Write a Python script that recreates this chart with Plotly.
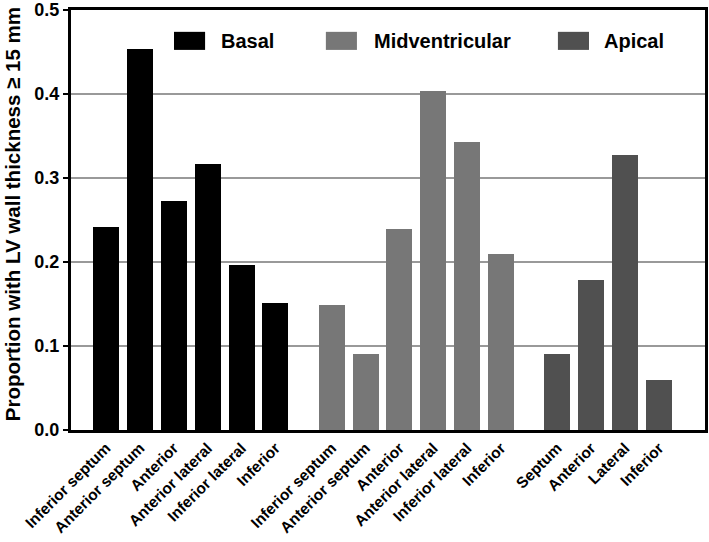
import plotly.graph_objects as go

groups = ["Basal", "Midventricular", "Apical"]
basal_labels = ["Inferior septum", "Anterior septum", "Anterior", "Anterior lateral", "Inferior lateral", "Inferior"]
basal_values = [0.242, 0.454, 0.273, 0.317, 0.197, 0.151]
mid_labels = ["Inferior septum", "Anterior septum", "Anterior", "Anterior lateral", "Inferior lateral", "Inferior"]
mid_values = [0.149, 0.090, 0.239, 0.403, 0.343, 0.209]
apical_labels = ["Septum", "Anterior", "Lateral", "Inferior"]
apical_values = [0.090, 0.178, 0.327, 0.059]
y_ticks = [0.0, 0.1, 0.2, 0.3, 0.4, 0.5]
colors = ["#000000", "#777777", "#505050"]
y_title = "Proportion with LV wall thickness \u2265 15 mm"

GAP = 1.66
series = [(basal_labels, basal_values), (mid_labels, mid_values), (apical_labels, apical_values)]

fig = go.Figure()
tickvals, ticktext = [], []
offset = 0.0
for (labels, values), name, color in zip(series, groups, colors):
    xs = [offset + i for i in range(len(labels))]
    fig.add_trace(go.Bar(x=xs, y=values, name=name, marker=dict(color=color, line=dict(width=0)),
                         width=0.77, showlegend=False))
    tickvals += xs
    ticktext += labels
    offset = xs[-1] + GAP

font_family = "Liberation Sans, Arial, sans-serif"

# legend drawn as wide swatches + text
legend_pos = [(0.1625, 0.2334, "Basal"), (0.402, 0.475, "Midventricular"), (0.768, 0.8375, "Apical")]
for (sx, tx, name), color in zip(legend_pos, colors):
    fig.add_shape(type="rect", xref="paper", yref="paper", x0=sx, x1=sx + 0.049,
                  y0=0.905, y1=0.948, fillcolor=color, line=dict(width=0))
    fig.add_annotation(xref="paper", yref="paper", x=tx, y=0.926, text=name,
                       showarrow=False, xanchor="left", yanchor="middle",
                       font=dict(family=font_family, size=20, color="black", weight="bold"))

# y-axis title
fig.add_annotation(xref="paper", yref="paper", x=-0.093, y=0.514, text=y_title,
                   textangle=-90, showarrow=False, xanchor="center", yanchor="middle",
                   font=dict(family=font_family, size=20.5, color="black", weight="bold"))

fig.update_layout(
    width=709, height=542,
    margin=dict(l=71, r=4, t=10, b=112),
    plot_bgcolor="white", paper_bgcolor="white",
    bargap=0,
    font=dict(family=font_family, color="black"),
)
fig.update_yaxes(
    range=[0, 0.5], tickmode="array", tickvals=y_ticks,
    ticktext=[f"{v:.1f}" for v in y_ticks], automargin=False, ticklabeloverflow="allow",
    showline=True, linewidth=3, linecolor="black", mirror=True,
    ticks="outside", ticklen=5, tickwidth=2, tickcolor="black",
    showgrid=True, gridcolor="#999999", gridwidth=2, zeroline=False,
    tickfont=dict(family=font_family, size=18, color="black", weight="bold"),
)
fig.update_xaxes(
    range=[-1.035, offset - GAP + 1.36], automargin=False, ticklabeloverflow="allow",
    tickvals=tickvals, ticktext=ticktext, tickangle=-45,
    showline=True, linewidth=3, linecolor="black", mirror=True,
    ticks="", showgrid=False, zeroline=False,
    tickfont=dict(family=font_family, size=15.5, color="black", weight="bold"),
)

fig.write_html("out.html", config={"displayModeBar": False},
               post_script="document.body.style.margin='0';document.body.style.overflow='hidden';")
